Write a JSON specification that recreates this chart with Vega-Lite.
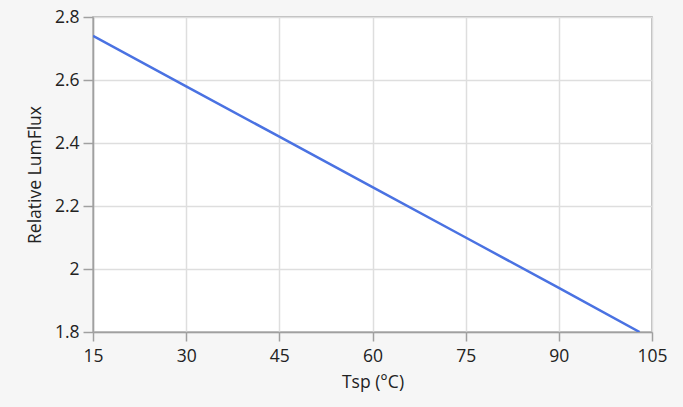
{
  "$schema": "https://vega.github.io/schema/vega-lite/v6.json",
  "width": 559,
  "height": 315,
  "autosize": {"type": "none"},
  "padding": {"left": 93, "top": 17, "right": 31, "bottom": 75},
  "background": "#f6f6f6",
  "config": {
    "font": "Open Sans",
    "view": {"fill": "white", "stroke": "#a8a8a8", "strokeWidth": 1.5},
    "axis": {
      "labelFont": "Open Sans",
      "titleFont": "Open Sans",
      "labelFontSize": 17.5,
      "titleFontSize": 17.5,
      "labelColor": "#222222",
      "titleColor": "#222222",
      "titleFontWeight": "normal",
      "domainColor": "#a0a0a0",
      "domainWidth": 1.5,
      "tickColor": "#a0a0a0",
      "tickWidth": 1.5,
      "gridColor": "#dedede",
      "gridWidth": 1.5
    }
  },
  "data": {
    "values": [
      {"t": 15, "v": 2.74},
      {"t": 30, "v": 2.58},
      {"t": 45, "v": 2.42},
      {"t": 60, "v": 2.26},
      {"t": 75, "v": 2.10},
      {"t": 90, "v": 1.94},
      {"t": 103, "v": 1.80}
    ]
  },
  "mark": {"type": "line", "color": "#4a72e2", "strokeWidth": 2.5, "clip": true},
  "encoding": {
    "x": {
      "field": "t",
      "type": "quantitative",
      "scale": {"domain": [15, 105], "nice": false, "zero": false},
      "axis": {
        "title": "Tsp (°C)",
        "values": [15, 30, 45, 60, 75, 90, 105],
        "tickSize": 9,
        "labelPadding": 6,
        "titlePadding": 9,
        "labelFlush": false
      }
    },
    "y": {
      "field": "v",
      "type": "quantitative",
      "scale": {"domain": [1.8, 2.8], "nice": false, "zero": false},
      "axis": {
        "title": "Relative LumFlux",
        "values": [1.8, 2.0, 2.2, 2.4, 2.6, 2.8],
        "format": "~g",
        "tickSize": 10,
        "labelPadding": 4,
        "titlePadding": 10,
        "labelFlush": false
      }
    }
  }
}
